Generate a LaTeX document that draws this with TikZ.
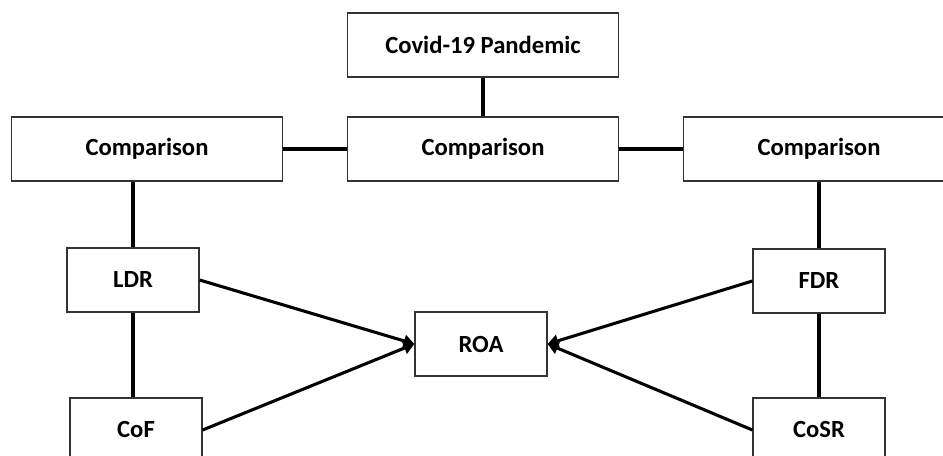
\documentclass[tikz,border=0pt]{standalone}
\usepackage{fontspec}
\setmainfont{Carlito}
\usetikzlibrary{arrows.meta}
\begin{document}
\begin{tikzpicture}[x=0.75pt,y=-0.75pt,
  box/.style={draw=black!80,line width=0.9pt,fill=white,inner sep=0pt,minimum height=48pt,font=\fontsize{18.5}{20}\selectfont\bfseries},
  wide/.style={box,minimum width=203pt},
  small/.style={box,minimum width=99pt},
  link/.style={line width=2.3pt},
  arr/.style={line width=2.3pt,-{Triangle[length=8pt,width=9pt]}}]
\useasboundingbox (0,0) rectangle (943,456);
\clip (0,0) rectangle (943,456);
\node[wide] (covid) at (483,45) {Covid-19 Pandemic};
\node[wide] (cmpM) at (483,149) {Comparison};
\node[wide] (cmpL) at (147,149) {Comparison};
\node[wide] (cmpR) at (819,149) {Comparison};
\node[small] (ldr) at (133,280) {LDR};
\node[small] (cof) at (136,430) {CoF};
\node[small] (fdr) at (819,281) {FDR};
\node[small] (cosr) at (819,430) {CoSR};
\node[small] (roa) at (481,344) {ROA};
\draw[link] (covid) -- (cmpM);
\draw[link] (cmpL) -- (cmpM);
\draw[link] (cmpM) -- (cmpR);
\draw[link] (cmpL.south -| ldr) -- (ldr.north);
\draw[link] (cmpR.south -| fdr) -- (fdr.north);
\draw[link] (ldr.south) -- (ldr.south |- cof.north);
\draw[link] (fdr) -- (cosr);
\draw[arr] (ldr.east) -- (roa.west);
\draw[arr] (cof.east) -- (roa.west);
\draw[arr] (fdr.west) -- (roa.east);
\draw[arr] (cosr.west) -- (roa.east);
\end{tikzpicture}
\end{document}
